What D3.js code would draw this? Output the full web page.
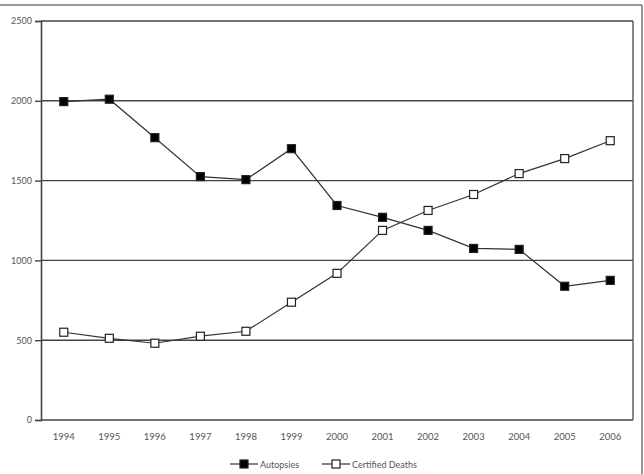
<!DOCTYPE html>
<html lang="en">
<head>
  <meta charset="UTF-8">
  <title>Autopsies vs Certified Deaths</title>
  <style>
    body { margin: 0; background: #fff; }
    svg { display: block; }
    text { font-family: "Lato", "DejaVu Sans", sans-serif; fill: #555; }
  </style>
  <script src="https://d3js.org/d3.v7.min.js"></script>
</head>
<body>
<script>
  var years = ["1994","1995","1996","1997","1998","1999","2000","2001","2002","2003","2004","2005","2006"];
  var autopsies = [1995, 2010, 1769, 1525, 1506, 1700, 1344, 1270, 1188, 1075, 1069, 838, 875];
  var certified = [550, 512, 481, 525, 556, 738, 919, 1188, 1313, 1413, 1544, 1638, 1750];
  var yTicks = [0, 500, 1000, 1500, 2000, 2500];
  var seriesNames = ["Autopsies", "Certified Deaths"];

  var width = 644, height = 474;
  var plotLeft = 41, plotRight = 633, plotTop = 21, plotBottom = 420;

  var svg = d3.select("body").append("svg")
    .attr("width", width)
    .attr("height", height);

  // outer frame (top and right edges visible)
  svg.append("line").attr("x1", 0).attr("x2", 642).attr("y1", 5).attr("y2", 5)
    .attr("stroke", "#777").attr("stroke-width", 1.5);
  svg.append("line").attr("x1", 642).attr("x2", 642).attr("y1", 5).attr("y2", height)
    .attr("stroke", "#777").attr("stroke-width", 1.5);

  var x = d3.scaleBand().domain(years).range([plotLeft, plotRight]);
  var y = d3.scaleLinear().domain([0, 2500]).range([plotBottom, plotTop]);

  // grid lines
  svg.append("g").selectAll("line").data(yTicks).enter().append("line")
    .attr("x1", plotLeft).attr("x2", plotRight)
    .attr("y1", function (d) { return y(d); })
    .attr("y2", function (d) { return y(d); })
    .attr("stroke", "#444").attr("stroke-width", 1.4);

  // left axis
  var yAxis = d3.axisLeft(y).tickValues(yTicks).tickFormat(d3.format("d")).tickSize(6).tickPadding(3);
  var gy = svg.append("g").attr("transform", "translate(" + plotLeft + ",0)").call(yAxis);
  gy.select(".domain").attr("stroke", "#444").attr("stroke-width", 1.6);
  gy.selectAll(".tick line").attr("stroke", "#444").attr("stroke-width", 1.4);
  gy.selectAll("text").style("font-size", "9px").style("fill", "#555");

  // right edge of plot
  svg.append("line").attr("x1", plotRight).attr("x2", plotRight).attr("y1", plotTop).attr("y2", plotBottom)
    .attr("stroke", "#555").attr("stroke-width", 1.4);

  // bottom axis labels
  var xAxis = d3.axisBottom(x).tickSize(0).tickPadding(13);
  var gx = svg.append("g").attr("transform", "translate(0," + plotBottom + ")").call(xAxis);
  gx.select(".domain").remove();
  gx.selectAll("text").style("font-size", "9.5px").style("fill", "#555");

  var line = d3.line()
    .x(function (d, i) { return x(years[i]) + x.bandwidth() / 2; })
    .y(function (d) { return y(d); });

  function drawSeries(values, fill) {
    svg.append("path").datum(values)
      .attr("d", line)
      .attr("fill", "none")
      .attr("stroke", "#333")
      .attr("stroke-width", 1.2);
    svg.append("g").selectAll("rect").data(values).enter().append("rect")
      .attr("x", function (d, i) { return x(years[i]) + x.bandwidth() / 2 - 4; })
      .attr("y", function (d) { return y(d) - 4; })
      .attr("width", 8).attr("height", 8)
      .attr("fill", fill)
      .attr("stroke", "#222").attr("stroke-width", 1.2);
  }
  drawSeries(autopsies, "#000");
  drawSeries(certified, "#fff");

  // legend
  var legend = svg.append("g").attr("transform", "translate(0,464)");
  var legendItems = [
    { name: seriesNames[0], fill: "#000", x: 230 },
    { name: seriesNames[1], fill: "#fff", x: 322 }
  ];
  legendItems.forEach(function (it) {
    var g = legend.append("g").attr("transform", "translate(" + it.x + ",0)");
    g.append("line").attr("x1", 0).attr("x2", 28).attr("y1", 0).attr("y2", 0)
      .attr("stroke", "#333").attr("stroke-width", 1.2);
    g.append("rect").attr("x", 10).attr("y", -4).attr("width", 8).attr("height", 8)
      .attr("fill", it.fill).attr("stroke", "#222").attr("stroke-width", 1.2);
    g.append("text").attr("x", 30).attr("y", 3.5)
      .style("font-size", "9px").text(it.name);
  });
</script>
</body>
</html>
